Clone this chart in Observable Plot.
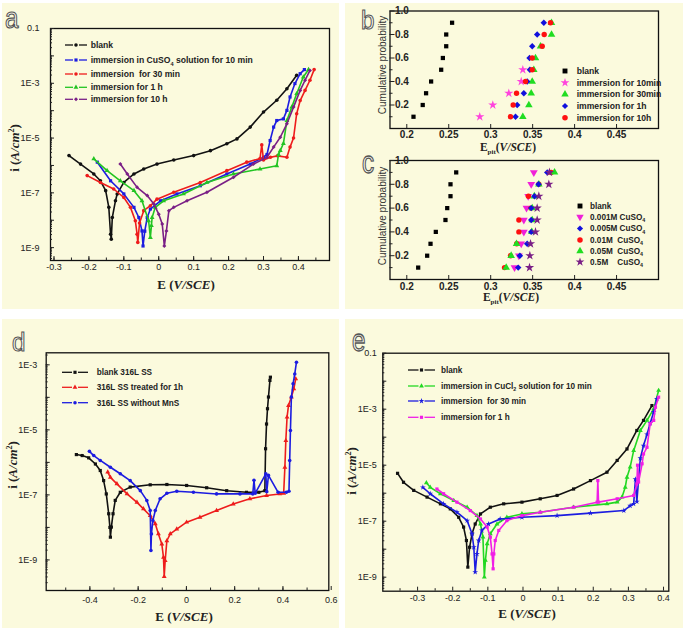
<!DOCTYPE html>
<html><head><meta charset="utf-8">
<script src="https://cdn.jsdelivr.net/npm/d3@7"></script>
<script src="https://cdn.jsdelivr.net/npm/@observablehq/plot@0.6"></script>
<style>
body{margin:0;background:#fff;}
#fig{position:relative;width:685px;height:631px;overflow:hidden;font-family:"Liberation Sans",Arial,sans-serif;}
.box{position:absolute;background:#fbfadd;}
.pl{position:absolute;}
</style></head>
<body><div id="fig"></div>
<script>
// ---------- Panel a : E (V/SCE) and log10 i (A/cm2) ----------
const aBlankE = [-0.257,-0.224,-0.186,-0.167,-0.152,-0.143,-0.138,-0.136,-0.133,-0.124,-0.119,-0.100,-0.071,-0.043,-0.005,0.043,0.100,0.148,0.195,0.224,0.262,0.300,0.338,0.367,0.395];
const aBlankL = [-5.64,-5.95,-6.31,-6.56,-6.92,-7.53,-8.51,-8.69,-7.90,-7.29,-7.04,-6.62,-6.31,-6.13,-5.95,-5.80,-5.64,-5.46,-5.21,-5.03,-4.60,-4.05,-3.62,-3.20,-2.71];
const a10minE = [-0.176,-0.138,-0.100,-0.071,-0.057,-0.048,-0.045,-0.040,-0.033,-0.024,0.005,0.052,0.119,0.195,0.262,0.300,0.310,0.319,0.329,0.338,0.357,0.367,0.376,0.390,0.405,0.417];
const a10minL = [-5.88,-6.56,-7.04,-7.53,-7.90,-8.39,-8.94,-8.40,-7.90,-7.59,-7.29,-7.04,-6.74,-6.31,-5.95,-5.70,-5.60,-5.09,-4.60,-4.36,-4.30,-3.99,-3.50,-3.01,-2.65,-2.50];
const a30minE = [-0.205,-0.167,-0.129,-0.100,-0.081,-0.067,-0.062,-0.060,-0.055,-0.043,-0.024,-0.005,0.043,0.119,0.195,0.252,0.290,0.295,0.300,0.320,0.340,0.367,0.376,0.386,0.395,0.405,0.419,0.433,0.445];
const a30minL = [-6.37,-6.62,-6.86,-7.17,-7.53,-8.02,-8.51,-8.81,-8.10,-7.65,-7.47,-7.23,-6.98,-6.62,-6.19,-5.88,-5.75,-5.25,-5.80,-5.70,-5.65,-5.70,-5.33,-5.00,-4.11,-3.63,-3.26,-2.89,-2.50];
const a1hE = [-0.186,-0.148,-0.110,-0.071,-0.048,-0.029,-0.024,-0.021,-0.019,-0.010,0.014,0.071,0.138,0.214,0.290,0.338,0.343,0.348,0.357,0.367,0.381,0.395,0.414,0.429];
const a1hL = [-5.76,-6.19,-6.56,-6.92,-7.29,-8.02,-8.63,-8.20,-7.90,-7.53,-7.29,-7.04,-6.62,-6.31,-6.13,-6.01,-5.60,-5.46,-5.20,-4.36,-3.87,-3.38,-2.77,-2.50];
const a10hE = [-0.110,-0.090,-0.062,-0.033,-0.014,0.000,0.010,0.016,0.022,0.029,0.043,0.081,0.138,0.214,0.271,0.310,0.329,0.348,0.367,0.386,0.405,0.419,0.433];
const a10hL = [-5.95,-6.31,-6.80,-7.10,-7.41,-7.78,-8.14,-8.94,-8.39,-7.65,-7.53,-7.29,-6.98,-6.43,-5.95,-5.70,-5.33,-4.97,-4.48,-3.87,-3.26,-2.89,-2.53];
const aLabels = ["blank","immersion in CuSO|4| solution for 10 min","immersion  for 30 min","immersion for 1 h","immersion for 10 h"];

// ---------- Panel b : cumulative probability vs E_pit ----------
const probs = [0.1,0.2,0.3,0.4,0.5,0.6,0.7,0.8,0.9];
const probs5 = [0.1,0.2,0.3,0.4,0.5];
const bBlank = [0.208,0.219,0.223,0.229,0.241,0.243,0.247,0.247,0.254];
const b10min = [0.287,0.3025,0.3216,0.3364,0.3383];
const b30min = [0.3383,0.3455,0.3483,0.3495,0.3514,0.3534,0.3594,0.3725,0.3725];
const b1h = [0.3296,0.3316,0.3395,0.3435,0.3467,0.3463,0.3495,0.3554,0.3633];
const b10h = [0.3236,0.3268,0.3308,0.3415,0.3495,0.3495,0.3614,0.3638,0.3713];
const bLabels = ["blank","immersion for 10min","immersion for 30min","immersion for 1h","immersion for 10h"];

// ---------- Panel c ----------
const cBlank = [0.2136,0.2243,0.2283,0.2346,0.2461,0.2482,0.2521,0.2521,0.2589];
const c0001 = [0.3284,0.3336,0.3364,0.3395,0.3395,0.3427,0.3447,0.3483,0.3514];
const c0005 = [0.3328,0.3348,0.3435,0.3483,0.3483,0.3483,0.3522,0.3570,0.3674];
const c001 = [0.3165,0.3236,0.3310,0.3336,0.3336,0.3480,0.3450,0.3574,0.3721];
const c005 = [0.3185,0.3244,0.3308,0.3490,0.3495,0.3495,0.3520,0.3574,0.3761];
const c05 = [0.3463,0.3467,0.3475,0.3534,0.3554,0.3554,0.3574,0.3693,0.3700];
const cLabels = ["blank","0.001M CuSO|4|","0.005M CuSO|4|","0.01M  CuSO|4|","0.05M  CuSO|4|","0.5M    CuSO|4|"];

// ---------- Panel d ----------
const dBlankE = [-0.456,-0.432,-0.405,-0.377,-0.357,-0.343,-0.332,-0.322,-0.317,-0.315,-0.311,-0.304,-0.295,-0.274,-0.233,-0.150,-0.081,0.001,0.084,0.167,0.249,0.300,0.325,0.328,0.332,0.336,0.340,0.346,0.348];
const dBlankL = [-5.76,-5.79,-5.86,-6.05,-6.25,-6.56,-6.97,-7.58,-8.00,-8.30,-7.99,-7.58,-7.17,-6.92,-6.76,-6.69,-6.68,-6.71,-6.78,-6.87,-6.92,-6.92,-6.87,-5.58,-4.82,-4.35,-3.99,-3.48,-3.38];
const dTreatE = [-0.326,-0.315,-0.288,-0.246,-0.205,-0.178,-0.150,-0.129,-0.116,-0.102,-0.095,-0.092,-0.088,-0.081,-0.067,-0.040,0.001,0.056,0.125,0.194,0.263,0.332,0.387,0.403,0.408,0.412,0.417,0.423,0.435,0.445,0.453];
const dTreatL = [-6.30,-6.46,-6.66,-6.97,-7.23,-7.43,-7.64,-7.89,-8.20,-8.51,-8.92,-9.51,-9.02,-8.41,-8.20,-8.05,-7.84,-7.69,-7.48,-7.28,-7.12,-7.02,-6.97,-6.95,-6.15,-5.33,-4.61,-4.25,-3.99,-3.74,-3.43];
const dNoMnsE = [-0.402,-0.384,-0.357,-0.315,-0.274,-0.233,-0.191,-0.164,-0.150,-0.147,-0.145,-0.139,-0.129,-0.109,-0.081,-0.040,0.029,0.125,0.222,0.275,0.280,0.285,0.329,0.333,0.340,0.380,0.414,0.425,0.428,0.431,0.435,0.442,0.449,0.456];
const dNoMnsL = [-5.66,-5.79,-5.94,-6.15,-6.35,-6.56,-6.87,-7.17,-7.48,-8.71,-8.20,-7.79,-7.48,-7.12,-6.95,-6.89,-6.92,-6.97,-6.97,-6.97,-6.55,-6.95,-6.35,-6.90,-6.40,-6.92,-6.92,-6.89,-5.94,-5.02,-3.99,-3.58,-3.28,-2.92];
const dLabels = ["blank 316L SS","316L SS treated for 1h","316L SS without MnS"];

// ---------- Panel e ----------
const eBlankE = [-0.357,-0.340,-0.311,-0.273,-0.235,-0.207,-0.183,-0.169,-0.161,-0.157,-0.152,-0.145,-0.136,-0.121,-0.093,-0.055,-0.003,0.049,0.097,0.144,0.192,0.239,0.268,0.296,0.324,0.343,0.367];
const eBlankL = [-5.29,-5.61,-5.90,-6.14,-6.38,-6.56,-6.86,-7.21,-7.69,-8.64,-7.93,-7.45,-7.10,-6.74,-6.50,-6.38,-6.32,-6.20,-6.08,-5.85,-5.55,-5.25,-4.83,-4.42,-3.76,-3.40,-2.87];
const e10minE = [-0.275,-0.264,-0.235,-0.197,-0.159,-0.131,-0.121,-0.114,-0.110,-0.107,-0.102,-0.093,-0.074,-0.046,-0.003,0.049,0.144,0.239,0.268,0.282,0.291,0.296,0.305,0.315,0.334,0.353,0.372,0.386];
const e10minL = [-5.63,-5.79,-6.02,-6.26,-6.50,-6.80,-7.10,-7.57,-9.00,-8.40,-7.81,-7.45,-7.10,-6.86,-6.74,-6.68,-6.50,-6.38,-6.32,-6.14,-5.79,-5.43,-5.07,-4.48,-3.76,-3.40,-2.99,-2.33];
const e30minE = [-0.285,-0.264,-0.226,-0.188,-0.159,-0.145,-0.140,-0.136,-0.131,-0.126,-0.117,-0.098,-0.065,-0.003,0.097,0.192,0.287,0.305,0.315,0.320,0.324,0.334,0.343,0.353,0.362,0.372,0.381];
const e30minL = [-5.79,-6.02,-6.38,-6.68,-6.98,-7.45,-7.93,-8.82,-8.17,-7.69,-7.33,-7.10,-6.92,-6.86,-6.80,-6.71,-6.62,-6.45,-6.38,-5.50,-6.30,-4.75,-4.30,-3.90,-3.50,-3.10,-2.63];
const e1hE = [-0.245,-0.226,-0.188,-0.150,-0.121,-0.102,-0.093,-0.088,-0.085,-0.083,-0.079,-0.069,-0.046,-0.003,0.049,0.144,0.211,0.213,0.215,0.268,0.315,0.324,0.326,0.329,0.339,0.343,0.353,0.362,0.372,0.377,0.386];
const e1hL = [-5.85,-6.02,-6.32,-6.62,-6.92,-7.21,-7.57,-8.17,-8.70,-8.17,-7.69,-7.33,-6.98,-6.80,-6.68,-6.50,-6.32,-5.55,-6.32,-6.20,-6.08,-5.67,-5.00,-5.60,-4.95,-4.60,-4.36,-3.52,-3.40,-2.93,-2.57];
const eLabels = ["blank","immersion in CuCl|2| solution for 10 min","immersion  for 30 min","immersion for 1 h"];

// ---------- tick lists ----------
const aXTicks = [-0.3,-0.2,-0.1,0,0.1,0.2,0.3,0.4];
const bXTicks = [0.2,0.25,0.3,0.35,0.4,0.45];
const bYTicks = [0.2,0.4,0.6,0.8,1.0];
const dXTicks = [-0.4,-0.2,0,0.2,0.4,0.6];
const eXTicks = [-0.3,-0.2,-0.1,0,0.1,0.2,0.3,0.4];
const aYExp = [-1,-3,-5,-7,-9];
const dYExp = [-3,-5,-7,-9];
const eYExp = [-1,-3,-5,-7,-9];

// ================= drawing =================
const fig = document.getElementById("fig");
const triDown = {draw(ctx, size){const y=-Math.sqrt(size/(Math.sqrt(3)*3));ctx.moveTo(0,-y*2);ctx.lineTo(-Math.sqrt(3)*y,y);ctx.lineTo(Math.sqrt(3)*y,y);ctx.closePath();}};
function box(x,y,w,h){const d=document.createElement("div");d.className="box";Object.assign(d.style,{left:x+"px",top:y+"px",width:w+"px",height:h+"px"});fig.appendChild(d);}
box(2,3,337,306); box(345,3,338,306); box(2,319,337,309); box(345,319,338,309);
function place(svg,x,y){const d=document.createElement("div");d.className="pl";d.style.left=x+"px";d.style.top=y+"px";d.appendChild(svg);fig.appendChild(d);}
const fmtE = v => v===0.1 ? "0.1" : "1E" + Math.round(Math.log10(v));
function rangeStep(a,b,s){const r=[];for(let v=a;v<=b+1e-9;v+=s)r.push(+v.toFixed(4));return r;}
function logMinor(lo,hi){const r=[];for(let e=Math.floor(lo);e<hi;e++)for(let k=1;k<10;k++){const v=k*10**e;if(Math.log10(v)>=lo&&Math.log10(v)<=hi)r.push(v);}return r;}

function polPanel(o){
  const marks=[Plot.frame({stroke:"#111",strokeWidth:1.3})];
  o.series.forEach(s=>{
    const rows=s.E.map((e,i)=>({E:e,i:10**s.L[i]}));
    marks.push(Plot.line(rows,{x:"E",y:"i",stroke:s.color,strokeWidth:1.6}));
    marks.push(Plot.dot(rows,{x:"E",y:"i",fill:s.color,r:1.8,symbol:s.symbol}));
  });
  const decs=rangeStep(Math.ceil(o.yLog[0]),Math.floor(o.yLog[1]),1).map(e=>10**e);
  marks.push(
    Plot.axisY(logMinor(o.yLog[0],o.yLog[1]),{anchor:"left",tickSize:2,dx:2,tickFormat:()=>"",label:null,stroke:"#222"}),
    Plot.axisY(decs,{anchor:"left",tickSize:4,dx:4,tickFormat:()=>"",label:null,stroke:"#222"}),
    Plot.axisY(o.yLabExp.map(e=>10**e),{anchor:"left",tickSize:0,tickPadding:o.yPad,tickFormat:fmtE,label:null,fontSize:9,fill:"#222"}),
    Plot.axisX(o.xMinor,{anchor:"bottom",tickSize:2.5,dy:-2.5,tickFormat:()=>"",label:null,stroke:"#222"}),
    Plot.axisX(o.xTicks,{anchor:"bottom",tickSize:4,dy:-4,tickFormat:()=>"",label:null,stroke:"#222"}),
    Plot.axisX(o.xTicks,{anchor:"bottom",tickSize:0,tickPadding:o.xPad,tickFormat:d=>String(d),label:null,fontSize:9,fill:"#222"})
  );
  const svg=Plot.plot({width:o.w,height:o.h,marginLeft:o.m[0],marginRight:o.m[1],marginTop:o.m[2],marginBottom:o.m[3],
    x:{domain:o.xDom,axis:null},y:{type:"log",domain:[10**o.yLog[0],10**o.yLog[1]],axis:null},
    style:{background:"transparent",fontFamily:"Liberation Sans, Arial, sans-serif",fontSize:"9px",color:"#222",overflow:"visible"},
    marks});
  place(svg,o.x,o.y);
}

function cumPanel(o){
  const marks=[Plot.frame({stroke:"#111",strokeWidth:1.3})];
  o.series.forEach(s=>{
    const rows=s.E.map((e,i)=>({E:e,p:s.P[i]}));
    marks.push(Plot.dot(rows,{x:"E",y:"p",fill:s.color,r:s.r||2.7,symbol:s.symbol}));
  });
  marks.push(
    Plot.axisY(rangeStep(0.1,0.9,0.2),{anchor:"left",tickSize:3,dx:3,tickFormat:()=>"",label:null,stroke:"#222"}),
    Plot.axisY(bYTicks,{anchor:"left",tickSize:5,dx:5,tickFormat:()=>"",label:null,stroke:"#222"}),
    Plot.axisY(bYTicks,{anchor:"left",tickSize:0,tickPadding:0,dx:5,textAnchor:"start",tickFormat:d=>d.toFixed(1),label:null,fontSize:10,fontWeight:"bold",fill:"#222"}),
    Plot.axisX(bXTicks,{anchor:"bottom",tickSize:4,dy:-4,tickFormat:()=>"",label:null,stroke:"#222"}),
    Plot.axisX(bXTicks,{anchor:"bottom",tickSize:0,tickPadding:o.xPad,tickFormat:d=>String(d),label:null,fontSize:10,fontWeight:"bold",fill:"#222"})
  );
  const svg=Plot.plot({width:o.w,height:o.h,marginLeft:o.m[0],marginRight:o.m[1],marginTop:o.m[2],marginBottom:o.m[3],
    x:{domain:[0.18,0.5],axis:null},y:{domain:[0,1],axis:null},
    style:{background:"transparent",fontFamily:"Liberation Sans, Arial, sans-serif",fontSize:"10px",color:"#222",overflow:"visible"},
    marks});
  place(svg,o.x,o.y);
}

const C={blk:"#111111",blue:"#1c1ce0",red:"#ee1c1c",green:"#22c422",purple:"#7a1f86",mag:"#f020d8",pink:"#ff44dd"};

polPanel({x:2,y:3,w:337,h:306,m:[48,10,25,49],xDom:[-0.31,0.489],yLog:[-9.47,-1],yLabExp:aYExp,yPad:11,xPad:3.5,
  xTicks:aXTicks,xMinor:rangeStep(-0.3,0.45,0.05),
  series:[{E:aBlankE,L:aBlankL,color:C.blk,symbol:"circle"},{E:a10minE,L:a10minL,color:C.blue,symbol:"square"},
    {E:a30minE,L:a30minL,color:C.red,symbol:"circle"},{E:a1hE,L:a1hL,color:C.green,symbol:"triangle"},{E:a10hE,L:a10hL,color:C.purple,symbol:"diamond2"}]});

cumPanel({x:345,y:3,w:338,h:150,m:[44.5,25,7.5,25],xPad:2.5,series:[
  {E:bBlank,P:probs,color:"#000",symbol:"square",r:2.4},{E:b10min,P:probs5,color:C.pink,symbol:"star",r:2.9},
  {E:b30min,P:probs,color:"#20dd20",symbol:"triangle",r:2.8},{E:b1h,P:probs,color:"#1010dd",symbol:"diamond2",r:2.9},
  {E:b10h,P:probs,color:"#ff1010",symbol:"circle",r:2.7}]});

cumPanel({x:345,y:153,w:338,h:156,m:[44.5,25,7,30],xPad:3,series:[
  {E:cBlank,P:probs,color:"#000",symbol:"square",r:2.4},{E:c0001,P:probs,color:C.mag,symbol:triDown,r:2.9},
  {E:c001,P:probs,color:"#ff1010",symbol:"circle",r:2.7},{E:c005,P:probs,color:"#20dd20",symbol:"triangle",r:2.8},
  {E:c0005,P:probs,color:"#1010dd",symbol:"diamond2",r:2.9},{E:c05,P:probs,color:C.purple,symbol:"star",r:2.9}]});

polPanel({x:2,y:319,w:337,h:309,m:[43.7,10.7,33.3,38],xDom:[-0.581,0.59],yLog:[-9.94,-2.63],yLabExp:dYExp,yPad:9,xPad:6,
  xTicks:dXTicks,xMinor:rangeStep(-0.5,0.5,0.1),
  series:[{E:dBlankE,L:dBlankL,color:C.blk,symbol:"square"},{E:dTreatE,L:dTreatL,color:C.red,symbol:"triangle"},{E:dNoMnsE,L:dNoMnsL,color:C.blue,symbol:"circle"}]});

polPanel({x:345,y:319,w:338,h:309,m:[37.3,14.7,33.7,37.3],xDom:[-0.399,0.415],yLog:[-9.5,-1],yLabExp:eYExp,yPad:6,xPad:3.5,
  xTicks:eXTicks,xMinor:rangeStep(-0.35,0.35,0.1),
  series:[{E:eBlankE,L:eBlankL,color:C.blk,symbol:"square"},{E:e10minE,L:e10minL,color:"#22d822",symbol:"triangle"},
    {E:e30minE,L:e30minL,color:"#1c1ce0",symbol:"star"},{E:e1hE,L:e1hL,color:"#f01ee6",symbol:"square"}]});

// ================= overlay: legends, titles, panel letters =================
const ov=d3.select(fig).append("svg").attr("width",685).attr("height",631).style("position","absolute").style("left","0").style("top","0");
function richText(g,str,opts){ // "|x|" = subscript
  const t=g.append("text").attr("font-family",opts.family||"Liberation Sans, Arial, sans-serif").attr("font-size",opts.size).attr("font-weight",opts.weight||"bold").attr("fill",opts.fill||"#222");
  str.split("|").forEach((part,i)=>{const ts=t.append("tspan").text(part).attr("xml:space","preserve");if(i%2===1){ts.attr("font-size",opts.size*0.65).attr("dy",opts.size*0.3);}else if(i>0){ts.attr("dy",-opts.size*0.3);}});
  t.style("white-space","pre");
  return t;
}
function lineLegend(x0,x1,tx,ys,labels,colors,symbols,size){
  labels.forEach((lab,i)=>{
    const y=ys[i];const g=ov.append("g");
    const mid=(x0+x1)/2;
    g.append("line").attr("x1",x0).attr("x2",mid-3).attr("y1",y).attr("y2",y).attr("stroke",colors[i]).attr("stroke-width",1.3);
    g.append("line").attr("x1",mid+3).attr("x2",x1).attr("y1",y).attr("y2",y).attr("stroke",colors[i]).attr("stroke-width",1.3);
    g.append("path").attr("d",d3.symbol().type(symbols[i]).size(10)()).attr("transform",`translate(${mid},${y})`).attr("fill",colors[i]);
    richText(g,lab,{size}).attr("x",tx).attr("y",y+size*0.35);
  });
}
function dotLegend(mx,tx,ys,labels,colors,symbols,size){
  labels.forEach((lab,i)=>{
    const y=ys[i];const g=ov.append("g");
    g.append("path").attr("d",d3.symbol().type(symbols[i]).size(24)()).attr("transform",`translate(${mx},${y})`).attr("fill",colors[i]);
    richText(g,lab,{size}).attr("x",tx).attr("y",y+size*0.35);
  });
}
lineLegend(65,87,90.7,[45,60,74,87.3,99.3],aLabels,[C.blk,C.blue,C.red,C.green,C.purple],[d3.symbolCircle,d3.symbolSquare,d3.symbolCircle,d3.symbolTriangle,d3.symbolDiamond2],8.6);
dotLegend(565,576.7,[71,82.7,94.3,106,117.7],bLabels,["#000",C.pink,"#20dd20","#1010dd","#ff1010"],[d3.symbolSquare,d3.symbolStar,d3.symbolTriangle,d3.symbolDiamond2,d3.symbolCircle],8.6);
dotLegend(580,590,[206,217,228.5,240,251,262],cLabels,["#000",C.mag,"#1010dd","#ff1010","#20dd20",C.purple],[d3.symbolSquare,triDown,d3.symbolDiamond2,d3.symbolCircle,d3.symbolTriangle,d3.symbolStar],8.2);
lineLegend(62,88,96.7,[372.3,387.3,402.7],dLabels,[C.blk,C.red,C.blue],[d3.symbolSquare,d3.symbolTriangle,d3.symbolCircle],8.2);
lineLegend(408,435,441,[370,386,401,417.3],eLabels,[C.blk,"#22d822","#1c1ce0","#f01ee6"],[d3.symbolSquare,d3.symbolTriangle,d3.symbolStar,d3.symbolSquare],8.2);

// axis titles
const serif="Liberation Serif, DejaVu Serif, serif";
function yTitle(cx,cy){
  const t=ov.append("text").attr("transform",`translate(${cx},${cy}) rotate(-90)`).attr("text-anchor","middle").attr("dy","0.35em")
    .attr("font-family",serif).attr("font-size",13).attr("font-weight","bold").attr("fill","#222");
  t.append("tspan").text("i (");t.append("tspan").attr("font-style","italic").text("A/cm");
  t.append("tspan").attr("font-size",8).attr("dy",-5).text("2");t.append("tspan").attr("dy",5).text(")");
}
function xTitle(cx,cy){
  const t=ov.append("text").attr("x",cx).attr("y",cy).attr("text-anchor","middle").attr("dy","0.35em")
    .attr("font-family",serif).attr("font-size",13).attr("font-weight","bold").attr("fill","#222");
  t.append("tspan").text("E (");t.append("tspan").attr("font-style","italic").text("V/SCE");t.append("tspan").text(")");
}
function pitTitle(cx,cy){
  const t=ov.append("text").attr("x",cx).attr("y",cy).attr("text-anchor","middle").attr("dy","0.35em")
    .attr("font-family",serif).attr("font-size",11.5).attr("font-weight","bold").attr("fill","#222");
  t.append("tspan").text("E");t.append("tspan").attr("font-size",7).attr("dy",3).text("pit");
  t.append("tspan").attr("dy",-3).text("(");t.append("tspan").attr("font-style","italic").text("V/SCE");t.append("tspan").text(")");
}
function probTitle(cx,cy){
  ov.append("text").attr("transform",`translate(${cx},${cy}) rotate(-90)`).attr("text-anchor","middle").attr("dy","0.35em")
    .attr("font-family","Liberation Sans, Arial, sans-serif").attr("font-size",10).attr("fill","#333").text("Cumulative probability");
}
yTitle(14,148); xTitle(186,284);
probTitle(382,65); pitTitle(508,146.5);
probTitle(382,216); pitTitle(511,296.5);
yTitle(12,465); xTitle(184,616.5);
yTitle(351.5,471); xTitle(527,613);

// panel letters (outlined)
[["a",5,28,1.3],["b",361,29,1.15],["c",362,173,1.4],["d",12,351,1.15],["e",352,351,1.4]].forEach(([ch,x,y,s])=>{
  ov.append("text").attr("transform",`translate(${x},${y}) scale(1.1,${s})`).attr("font-family","Liberation Sans Narrow, Liberation Sans, sans-serif")
    .attr("font-size",22).attr("fill","#fffff4").attr("stroke","#555").attr("stroke-width",0.9).text(ch);
});
</script></body></html>
